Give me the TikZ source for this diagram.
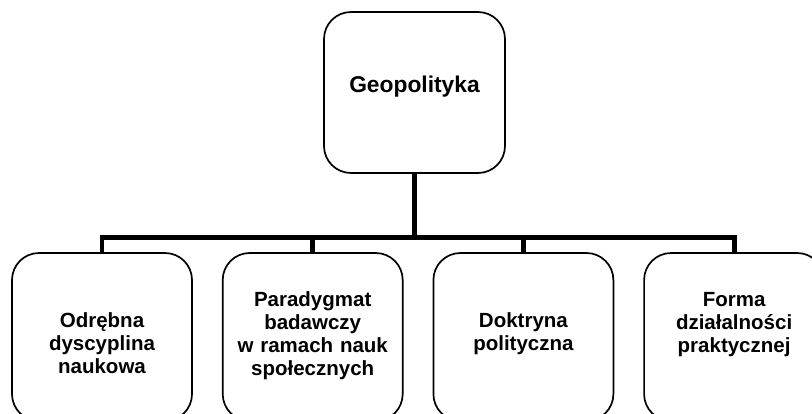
\documentclass[tikz,border=0pt]{standalone}
\usepackage{fontspec}
\setmainfont{Liberation Sans}
\usetikzlibrary{positioning}

\begin{document}
\begin{tikzpicture}[x=1pt,y=-1pt]
        \tikzset{box/.style={draw,line width=1.7pt,rounded corners=27pt,
                align=center,font=\fontsize{20.5}{23}\selectfont\bfseries,
                minimum width=180pt,minimum height=168pt,text width=166pt,inner sep=7pt,
                text height=15pt,text depth=#1},
            box/.default=33.6pt,
            rootbox/.style={box=17.6pt,minimum width=181pt,minimum height=161pt,
                text height=16.6pt,font=\fontsize{22.8}{26}\selectfont\bfseries},
            link/.style={draw,line width=4.8pt}}
        \useasboundingbox (0,0) rectangle (812,413);
        \clip (0,0) rectangle (812,413);
        \node[rootbox] (geo) at (414.5,92.5) {Geopolityka};
        \coordinate (hub) at (414.5,237.5);
        \node[box] (odr) at (102,337) {Odrębna\\dyscyplina\\naukowa};
        \node[box=75.6pt,right=29pt of odr] (par) {Paradygmat\\badawczy\\w ramach nauk\\społecznych};
        \node[box,right=29pt of par] (dok) {Doktryna\\polityczna};
        \node[box=75.6pt,right=29pt of dok] (for) {Forma\\działalności\\praktycznej};
        \draw[link] (geo) -- (hub);
        \foreach \kid in {odr,par,dok,for}
            \draw[link] (hub) -| (\kid);
    \end{tikzpicture}
\end{document}
